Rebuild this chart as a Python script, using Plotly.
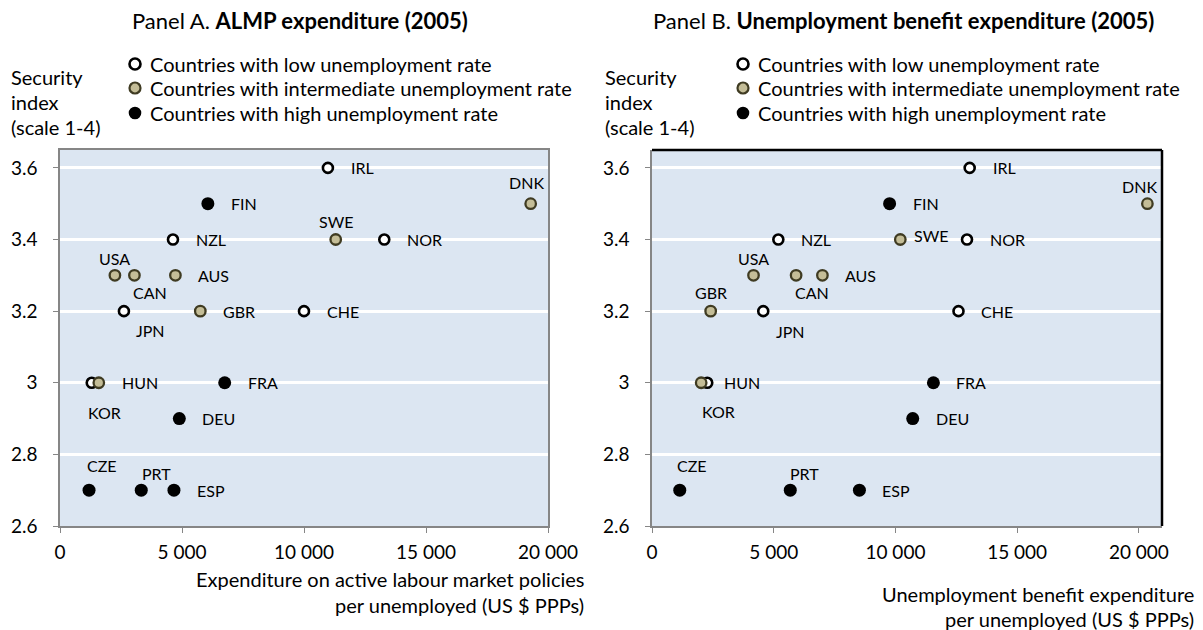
import plotly.graph_objects as go

# ---------------- data ----------------
countries = ["IRL", "DNK", "FIN", "SWE", "NOR", "NZL", "USA", "CAN", "AUS", "JPN",
             "GBR", "CHE", "KOR", "HUN", "FRA", "DEU", "CZE", "PRT", "ESP"]
unemp_group = ["low", "int", "high", "int", "low", "low", "int", "int", "int", "low",
               "int", "low", "low", "int", "high", "high", "high", "high", "high"]
security_index = [3.6, 3.5, 3.5, 3.4, 3.4, 3.4, 3.3, 3.3, 3.3, 3.2,
                  3.2, 3.2, 3.0, 3.0, 3.0, 2.9, 2.7, 2.7, 2.7]
almp_exp = [10980, 19290, 6060, 11300, 13290, 4630, 2250, 3050, 4730, 2620,
            5750, 10000, 1300, 1590, 6750, 4890, 1190, 3330, 4670]
ub_exp = [13050, 20350, 9760, 10200, 12940, 5190, 4170, 5920, 7000, 4570,
          2410, 12590, 2270, 2020, 11560, 10710, 1140, 5680, 8520]

group_keys = ["low", "int", "high"]
group_names = {
    "low": "Countries with low unemployment rate",
    "int": "Countries with intermediate unemployment rate",
    "high": "Countries with high unemployment rate",
}
x_ticks = [0, 5000, 10000, 15000, 20000]
y_ticks = [2.6, 2.8, 3.0, 3.2, 3.4, 3.6]

# ---------------- styles ----------------
FONT = "Lato"
W, H = 1203, 630
fill = {"low": "white", "int": "#C4BD97", "high": "black"}
edge = {"low": "black", "int": "#3F3B22", "high": "black"}
marker_styles = {
    "low": dict(color=fill["low"], size=10, line=dict(color=edge["low"], width=2.6)),
    "int": dict(color=fill["int"], size=10.5, line=dict(color=edge["int"], width=2.3)),
    "high": dict(color=fill["high"], size=13, line=dict(color=edge["high"], width=0)),
}
# label placement: (xanchor, dx px, dy px downward)
R = ("left", 21, 0)
labels_a = {"IRL": R, "FIN": R, "NOR": R, "NZL": R, "AUS": R, "GBR": R, "CHE": R,
            "HUN": R, "FRA": R, "DEU": R, "ESP": R,
            "DNK": ("center", -4, -21), "SWE": ("center", 0, -18), "USA": ("center", 0, -17),
            "CAN": ("center", 16, 17), "JPN": ("center", 27, 19), "KOR": ("center", 13, 30),
            "CZE": ("center", 13, -25), "PRT": ("center", 15, -17)}
labels_b = {"IRL": R, "FIN": R, "NOR": R, "NZL": R, "AUS": R, "CHE": R,
            "HUN": R, "FRA": R, "DEU": R, "ESP": R,
            "DNK": ("center", -8, -17), "SWE": ("left", 12, -4), "USA": ("center", 0, -17),
            "CAN": ("center", 16, 17), "GBR": ("center", 0, -19), "JPN": ("center", 27, 20),
            "KOR": ("center", 11, 29), "CZE": ("center", 12, -25), "PRT": ("center", 14, -17)}

fig = go.Figure()

panels = [("x", "y", almp_exp), ("x2", "y2", ub_exp)]
for xa, ya, xs in panels:
    for g in group_keys:
        idx = [i for i, gg in enumerate(unemp_group) if gg == g]
        fig.add_trace(go.Scatter(
            x=[xs[i] for i in idx], y=[security_index[i] for i in idx],
            mode="markers", name=group_names[g], marker=marker_styles[g],
            xaxis=xa, yaxis=ya, showlegend=False, hoverinfo="text",
            text=[countries[i] for i in idx]))

annotations = []
for xa, ya, xs, labs in [("x", "y", almp_exp, labels_a), ("x2", "y2", ub_exp, labels_b)]:
    for i, c in enumerate(countries):
        anchor, dx, dy = labs[c]
        annotations.append(dict(x=xs[i], y=security_index[i], xref=xa, yref=ya, text=c,
                                showarrow=False, xanchor=anchor, yanchor="middle",
                                xshift=dx, yshift=-dy,
                                font=dict(family=FONT, size=16, color="black")))


def px_x(p):
    return p / W


def px_y(p):
    return 1 - p / H


# titles
annotations += [
    dict(x=px_x(300), y=px_y(20), xref="paper", yref="paper", showarrow=False,
         text="Panel A. <b>ALMP expenditure (2005)</b>", xanchor="center", yanchor="middle",
         font=dict(family=FONT, size=22, color="black")),
    dict(x=px_x(903), y=px_y(20), xref="paper", yref="paper", showarrow=False,
         text="Panel B. <b>Unemployment benefit expenditure (2005)</b>", xanchor="center",
         yanchor="middle", font=dict(family=FONT, size=22, color="black")),
]
# y-axis titles
for xl in [9, 603]:
    for line, yy in zip(["Security", "index", "(scale 1-4)"], [77, 102, 127]):
        annotations.append(dict(x=px_x(xl), y=px_y(yy), xref="paper", yref="paper",
                                showarrow=False, text=line, xanchor="left", yanchor="middle",
                                font=dict(family=FONT, size=20, color="black")))
# x-axis titles
for txt, xr, ys in [
    (["Expenditure on active labour market policies", "per unemployed (US $ PPPs)"], 586, [579, 605]),
    (["Unemployment benefit expenditure", "per unemployed (US $ PPPs)"], 1196, [594, 619]),
]:
    for line, yy in zip(txt, ys):
        annotations.append(dict(x=px_x(xr), y=px_y(yy), xref="paper", yref="paper",
                                showarrow=False, text=line, xanchor="right", yanchor="middle",
                                font=dict(family=FONT, size=20, color="black")))

# legends (one per panel), drawn as text + symbol shapes
shapes = []
legend_rows = [64, 88, 113]
for mx, tx in [(135, 148), (743, 756)]:
    for g, yy in zip(group_keys, legend_rows):
        annotations.append(dict(x=px_x(tx), y=px_y(yy), xref="paper", yref="paper",
                                showarrow=False, text=group_names[g], xanchor="left",
                                yanchor="middle",
                                font=dict(family=FONT, size=20, color="black")))
        r = 5.5 if g != "high" else 6.3
        lw = 2.6 if g == "low" else (2.2 if g == "int" else 0)
        shapes.append(dict(type="circle", xref="paper", yref="paper",
                           x0=px_x(mx - r), x1=px_x(mx + r), y0=px_y(yy + r), y1=px_y(yy - r),
                           fillcolor=fill[g], line=dict(color=edge[g], width=lw)))

shapes += [
    dict(type="line", xref="x2 domain", yref="y2 domain", x0=0, x1=1, y0=1, y1=1,
         line=dict(color="black", width=2.5)),
    dict(type="line", xref="x2 domain", yref="y2 domain", x0=1, x1=1, y0=0, y1=1,
         line=dict(color="black", width=2.5)),
]

axis_common = dict(ticks="outside", ticklen=5, tickcolor="#868686", showline=True,
                   linecolor="#868686", linewidth=1.5, zeroline=False, automargin=False,
                   tickfont=dict(family=FONT, size=19, color="black"))
fig.update_layout(
    width=W, height=H, margin=dict(l=0, r=0, t=0, b=0, autoexpand=False),
    paper_bgcolor="white", plot_bgcolor="#DCE6F2",
    separators=". ",
    showlegend=False,
    annotations=annotations,
    shapes=shapes,
    xaxis=dict(domain=[px_x(60), px_x(548)], range=[0, 20000], tickvals=x_ticks,
               tickformat=",d", showgrid=False, anchor="y", mirror=True,
               ticklabelstandoff=3, **axis_common),
    yaxis=dict(domain=[px_y(526), px_y(150)], range=[2.6, 3.65], tickvals=y_ticks,
               showgrid=True, gridcolor="white", gridwidth=2.5, anchor="x", mirror=True,
               ticklabelstandoff=12, **axis_common),
    xaxis2=dict(domain=[px_x(652), px_x(1162)], range=[0, 20950], tickvals=x_ticks,
                tickformat=",d", showgrid=False, anchor="y2",
                ticklabelstandoff=3, **axis_common),
    yaxis2=dict(domain=[px_y(526), px_y(150)], range=[2.6, 3.65], tickvals=y_ticks,
                showgrid=True, gridcolor="white", gridwidth=2.5, anchor="x2",
                ticklabelstandoff=12, **axis_common),
)

fig.write_html("out.html", config={"displayModeBar": False},
               post_script="document.body.style.margin='0';")
